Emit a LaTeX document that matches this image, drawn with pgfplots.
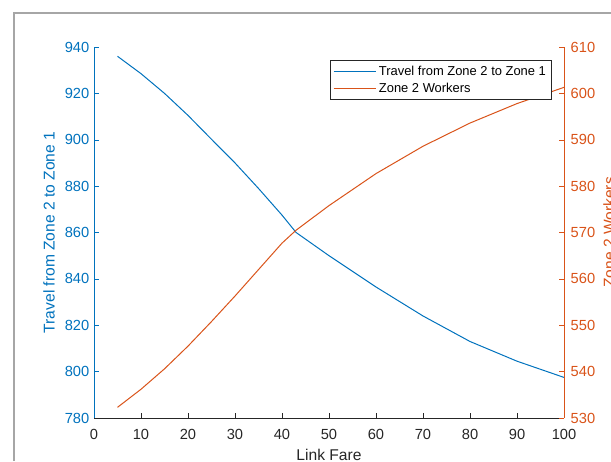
\documentclass[border=0pt]{standalone}
\usepackage{fontspec}
\setmainfont{Liberation Sans}
\usepackage{pgfplots}
\pgfplotsset{compat=1.18}
\definecolor{mblue}{HTML}{0072BD}
\definecolor{morange}{HTML}{D95319}
\definecolor{mgray}{HTML}{262626}

\pgfplotsset{
  twin/.style={
    at={(70.5pt,32.25pt)}, anchor=south west,
    scale only axis, width=352.5pt, height=278.25pt,
    xmin=0, xmax=100,
    tick align=inside, major tick length=3.75pt,
    /pgf/number format/assume math mode=true,
    tick label style={font=\fontsize{11}{13}\selectfont},
    label style={font=\fontsize{11.7}{14}\selectfont},
  }
}

\begin{document}
\begin{tikzpicture}[x=0.75pt,y=0.75pt]
\useasboundingbox (0,0) rectangle (611,461);
\draw[black!35, line width=1.5] (14,0) -- (14,448) -- (611,448);

\begin{axis}[twin,
  ymin=780, ymax=940, ytick distance=20, xtick distance=10,
  axis x line*=bottom, axis y line*=left,
  x axis line style={-,mgray}, y axis line style={-,mblue},
  xtick style={mgray}, ytick style={mblue},
  x tick label style={text=mgray, yshift=-5pt}, y tick label style={text=mblue},
  xlabel={Link Fare}, xlabel style={text=mgray},
  ylabel={Travel from Zone 2 to Zone 1},
  ylabel style={text=mblue, at={(axis description cs:-0.0957,0.5)}, anchor=center},
]
\addplot[mblue, line width=0.75pt] coordinates {
 (5,936) (10,928.5) (15,920) (20,910.5) (25,900.2) (30,890) (35,879) (40,867.5)
 (43,860) (50,850) (60,836.5) (70,824) (80,813) (90,804.5) (100,797.5)};
\end{axis}

\begin{axis}[twin,
  ymin=530, ymax=610, ytick distance=10,
  axis x line=none, axis y line*=right,
  y axis line style={-,morange}, ytick style={morange},
  y tick label style={text=morange, xshift=1.5pt},
  ylabel={Zone 2 Workers},
  ylabel style={text=morange, at={(axis description cs:1.0957,0.5)}, anchor=center, rotate=0},
  legend style={at={(0.9745,0.965)}, anchor=north east, draw=mgray, line width=0.75pt,
    font=\fontsize{9.7}{12}\selectfont, inner sep=2.2pt, row sep=0pt},
  legend cell align=left,
  legend image code/.code={\draw[#1, line width=0.75pt] (0pt,0pt) -- (31.5pt,0pt);},
]
\addlegendimage{mblue}
\addlegendentry{Travel from Zone 2 to Zone 1}
\addplot[morange, line width=0.75pt] coordinates {
 (5,532.3) (10,536.2) (15,540.6) (20,545.5) (25,550.8) (30,556.3) (35,562) (40,567.7)
 (43,570.5) (50,575.8) (60,582.7) (70,588.6) (80,593.6) (90,597.8) (100,601.3)};
\addlegendentry{Zone 2 Workers}
\end{axis}
\end{tikzpicture}
\end{document}
